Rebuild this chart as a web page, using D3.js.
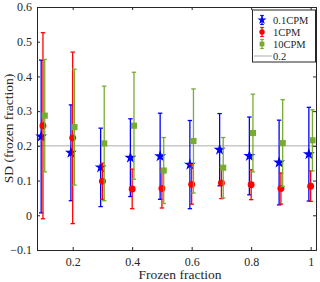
<!DOCTYPE html>
<html><head><meta charset="utf-8">
<script src="https://cdn.jsdelivr.net/npm/d3@7"></script>
<style>body{margin:0;background:#fff}svg{display:block}</style>
</head><body>
<script>
const fractions = [0.1,0.2,0.3,0.4,0.5,0.6,0.7,0.8,0.9,1.0];
const blueMean = [0.227,0.180,0.138,0.166,0.170,0.146,0.189,0.171,0.152,0.176];
const blueErr  = [0.220,0.138,0.113,0.112,0.124,0.127,0.104,0.112,0.122,0.135];
const redMean  = [0.258,0.223,0.098,0.076,0.077,0.089,0.093,0.088,0.077,0.084];
const redErr   = [0.268,0.247,0.052,0.057,0.056,0.057,0.045,0.043,0.045,0.044];
const greenMean= [0.287,0.254,0.207,0.258,0.129,0.214,0.137,0.237,0.208,0.216];
const greenErr = [0.162,0.167,0.165,0.154,0.095,0.150,0.087,0.112,0.125,0.088];
const seriesNames = ["0.1CPM","1CPM","10CPM"];
const refValue = 0.2;
const xTicks = [0.2,0.4,0.6,0.8,1];
const yTicks = [-0.1,0,0.1,0.2,0.3,0.4,0.5,0.6];

const W=320,H=282;
const L=37,T=7,R=316,B=250;
const svg=d3.select("body").append("svg").attr("width",W).attr("height",H);
const x=d3.scaleLinear().domain([0.08,1.018]).range([L,R]);
const y=d3.scaleLinear().domain([-0.1,0.6]).range([B,T]);
const font="'Liberation Serif','Times New Roman',serif";
const axisColor="#262626";

// reference line
svg.append("line").attr("x1",L).attr("x2",R).attr("y1",y(refValue)).attr("y2",y(refValue))
  .attr("stroke","#c8c8c8").attr("stroke-width",1.5);

const series=[
  {name:seriesNames[0],mean:blueMean,err:blueErr,color:"#0000ff",sym:d3.symbolStar,size:44,dx:-0.006},
  {name:seriesNames[1],mean:redMean,err:redErr,color:"#ff0000",sym:d3.symbolCircle,size:38,dx:0},
  {name:seriesNames[2],mean:greenMean,err:greenErr,color:"#77ac30",sym:d3.symbolSquare,size:38,dx:0.006}
];
const cap=2.2, sw=1.3;
series.forEach(s=>{
  const g=svg.append("g");
  fractions.forEach((f,i)=>{
    const cx=x(f+s.dx), y1=y(s.mean[i]+s.err[i]), y2=y(s.mean[i]-s.err[i]);
    g.append("line").attr("x1",cx).attr("x2",cx).attr("y1",y1).attr("y2",y2).attr("stroke",s.color).attr("stroke-width",sw);
    g.append("line").attr("x1",cx-cap).attr("x2",cx+cap).attr("y1",y1).attr("y2",y1).attr("stroke",s.color).attr("stroke-width",sw);
    g.append("line").attr("x1",cx-cap).attr("x2",cx+cap).attr("y1",y2).attr("y2",y2).attr("stroke",s.color).attr("stroke-width",sw);
  });
  fractions.forEach((f,i)=>{
    g.append("path").attr("d",d3.symbol().type(s.sym).size(s.size)())
      .attr("transform",`translate(${x(f+s.dx)},${y(s.mean[i])})`).attr("fill",s.color);
  });
});

// axes
const ax=svg.append("g");
ax.append("g").attr("transform",`translate(0,${B})`).call(d3.axisBottom(x).tickValues(xTicks).tickSize(-3).tickPadding(7).tickFormat(d3.format("")));
ax.append("g").attr("transform",`translate(0,${T})`).call(d3.axisTop(x).tickValues(xTicks).tickSize(-3).tickFormat(""));
ax.append("g").attr("transform",`translate(${L},0)`).call(d3.axisLeft(y).tickValues(yTicks).tickSize(-3).tickPadding(5).tickFormat(d=>d3.format("")(Math.round(d*10)/10)));
ax.append("g").attr("transform",`translate(${R},0)`).call(d3.axisRight(y).tickValues(yTicks).tickSize(-3).tickFormat(""));
ax.selectAll(".domain").attr("stroke",axisColor);
ax.selectAll(".tick line").attr("stroke",axisColor);
ax.selectAll("text").attr("font-family",font).attr("font-size",12).attr("fill","#262626");

svg.append("text").attr("x",180).attr("y",279).attr("text-anchor","middle")
  .attr("font-family",font).attr("font-size",13.5).attr("fill","#262626").text("Frozen fraction");
svg.append("text").attr("transform",`translate(13,${(T+B)/2}) rotate(-90)`).attr("text-anchor","middle")
  .attr("font-family",font).attr("font-size",13.5).attr("fill","#262626").text("SD (frozen fraction)");

// legend
const lg=svg.append("g");
lg.append("rect").attr("x",252.5).attr("y",10).attr("width",63).attr("height",52)
  .attr("fill","#fff").attr("stroke",axisColor).attr("stroke-width",1);
series.forEach((s,i)=>{
  const ly=20+i*12, lx=262;
  lg.append("line").attr("x1",lx).attr("x2",lx).attr("y1",ly-4.5).attr("y2",ly+4.5).attr("stroke",s.color).attr("stroke-width",1.2);
  lg.append("line").attr("x1",lx-1.8).attr("x2",lx+1.8).attr("y1",ly-4.5).attr("y2",ly-4.5).attr("stroke",s.color).attr("stroke-width",1.2);
  lg.append("line").attr("x1",lx-1.8).attr("x2",lx+1.8).attr("y1",ly+4.5).attr("y2",ly+4.5).attr("stroke",s.color).attr("stroke-width",1.2);
  lg.append("path").attr("d",d3.symbol().type(s.sym).size(s.size*0.6)()).attr("transform",`translate(${lx},${ly})`).attr("fill",s.color);
  lg.append("text").attr("x",273).attr("y",ly+3.5).attr("font-family",font).attr("font-size",10.5).attr("fill","#262626").text(s.name);
});
lg.append("line").attr("x1",254).attr("x2",272).attr("y1",56).attr("y2",56).attr("stroke","#c8c8c8").attr("stroke-width",1.5);
lg.append("text").attr("x",273).attr("y",59.5).attr("font-family",font).attr("font-size",10.5).attr("fill","#262626").text(String(refValue));
</script>
</body></html>
